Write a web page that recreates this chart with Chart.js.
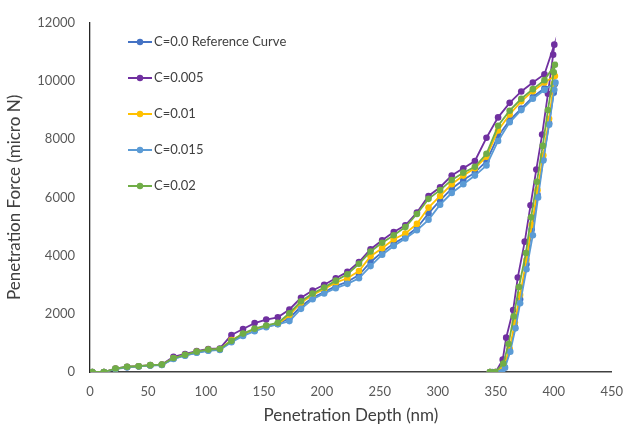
<!DOCTYPE html>
<html lang="en">
<head>
  <meta charset="UTF-8">
  <title>Penetration Force vs Depth</title>
  <script src="https://cdn.jsdelivr.net/npm/chart.js"></script>
  <style>
    html, body {
      margin: 0;
      padding: 0;
      background: #fff;
    }
    #myChart {
      display: block;
    }
  </style>
</head>
<body>
<canvas id="myChart" width="635" height="430"></canvas>

<script>
  // loading branch depths (nm), shared by every series
  const loadDepth = [2, 12, 22, 32, 42, 52, 62, 72, 82, 92, 102, 112, 122, 132, 142, 152, 162, 172, 182, 192,
    202, 212, 222, 232, 242, 252, 262, 272, 282, 292, 302, 312, 322, 332, 342, 352, 362, 372, 382, 392];

  // loading branch forces (micro N)
  const refLoad = [0, 0, 105, 165, 195, 225, 245, 460, 570, 670, 740, 770, 1050, 1270, 1430, 1560, 1650, 1850, 2250, 2550,
    2750, 2950, 3100, 3330, 3780, 4120, 4420, 4650, 4950, 5450, 5900, 6300, 6600, 6850, 7250, 8100, 8650, 9050, 9450, 9750];
  const c005Load = [0, 0, 120, 180, 200, 235, 255, 520, 620, 720, 790, 810, 1270, 1480, 1680, 1800, 1880, 2150, 2550, 2800,
    3000, 3220, 3440, 3780, 4220, 4530, 4810, 5040, 5480, 6050, 6350, 6750, 7000, 7250, 8050, 8750, 9250, 9640, 9950, 10230];
  const c01Load = [0, 0, 110, 170, 200, 230, 250, 470, 580, 690, 760, 780, 1100, 1300, 1460, 1560, 1650, 1950, 2380, 2650,
    2850, 3070, 3220, 3470, 3980, 4250, 4560, 4760, 5090, 5650, 6050, 6450, 6750, 7000, 7400, 8300, 8850, 9300, 9650, 9950];
  const c015Load = [0, 0, 100, 160, 190, 220, 240, 450, 560, 660, 730, 760, 1020, 1240, 1400, 1540, 1640, 1750, 2170, 2500,
    2700, 2880, 3030, 3220, 3640, 4030, 4330, 4590, 4870, 5230, 5750, 6150, 6450, 6750, 7100, 7940, 8580, 9000, 9390, 9690];
  const c02Load = [0, 0, 120, 180, 200, 235, 255, 480, 590, 700, 770, 790, 1070, 1320, 1490, 1600, 1690, 2020, 2430, 2700,
    2900, 3140, 3360, 3720, 4140, 4440, 4700, 4980, 5430, 5950, 6250, 6600, 6850, 7050, 7500, 8460, 8980, 9390, 9720, 10030];

  // peak + unloading branch
  const refUnloadDepth = [401, 400, 396, 391, 386, 381, 376.5, 371, 366.5, 362, 357.5, 352, 347];
  const refUnloadForce = [9900, 9600, 8550, 7300, 6100, 4900, 3700, 2500, 1550, 750, 180, 0, 0];
  const c005UnloadDepth = [400.5, 399.5, 395, 390, 385, 380, 375, 369, 365, 359, 356, 350, 345];
  const c005UnloadForce = [11250, 10900, 9560, 8160, 6960, 5730, 4480, 3250, 2130, 1180, 425, 0, 0];
  const c01UnloadDepth = [401, 400, 396, 391, 386, 381, 376.5, 371, 366.5, 362, 357, 350, 345];
  const c01UnloadForce = [10170, 9900, 8700, 7450, 6250, 5050, 3850, 2650, 1700, 800, 200, 0, 0];
  const c015UnloadDepth = [401.5, 400.5, 396, 391, 386.5, 382, 376.5, 371, 367, 362.5, 358, 355.5, 350, 345];
  const c015UnloadForce = [9950, 9700, 8500, 7270, 6000, 4700, 3530, 2360, 1500, 700, 150, 0, 0, 0];
  const c02UnloadDepth = [401, 400, 395, 390.5, 385.5, 380.5, 376, 370, 365.5, 361, 356.5, 349.5, 345];
  const c02UnloadForce = [10560, 10300, 9000, 7770, 6540, 5320, 4090, 2920, 1910, 960, 290, 0, 0];

  const seriesNames = ['C=0.0 Reference Curve', 'C=0.005', 'C=0.01', 'C=0.015', 'C=0.02'];
  const seriesColors = ['#4472C4', '#7030A0', '#FFC000', '#5B9BD5', '#70AD47'];

  const xTicks = [0, 50, 100, 150, 200, 250, 300, 350, 400, 450];
  const yTicks = [0, 2000, 4000, 6000, 8000, 10000, 12000];

  function toPoints(xs, ys) {
    return xs.map((x, i) => ({x: x, y: ys[i]}));
  }

  const allSeries = [
    toPoints(loadDepth, refLoad).concat(toPoints(refUnloadDepth, refUnloadForce)),
    toPoints(loadDepth, c005Load).concat(toPoints(c005UnloadDepth, c005UnloadForce)),
    toPoints(loadDepth, c01Load).concat(toPoints(c01UnloadDepth, c01UnloadForce)),
    toPoints(loadDepth, c015Load).concat(toPoints(c015UnloadDepth, c015UnloadForce)),
    toPoints(loadDepth, c02Load).concat(toPoints(c02UnloadDepth, c02UnloadForce))
  ];

  const FONT = "Lato, 'Open Sans', sans-serif";

  // legend drawn inside the plot, like the excel one
  const insideLegend = {
    id: 'insideLegend',
    afterDraw(chart) {
      const c = chart.ctx;
      c.save();
      c.font = '13px ' + FONT;
      c.textBaseline = 'middle';
      seriesNames.forEach((name, i) => {
        const y = 42 + i * 36;
        c.strokeStyle = seriesColors[i];
        c.lineWidth = 2;
        c.beginPath();
        c.moveTo(128, y);
        c.lineTo(152, y);
        c.stroke();
        c.fillStyle = seriesColors[i];
        c.beginPath();
        c.arc(140, y, 3.2, 0, Math.PI * 2);
        c.fill();
        c.fillStyle = '#404040';
        c.fillText(name, 154, y);
      });
      c.restore();
    }
  };

  const ctx = document.getElementById('myChart').getContext('2d');
  const myChart = new Chart(ctx, {
    type: 'scatter',
    data: {
      datasets: allSeries.map((pts, i) => ({
        label: seriesNames[i],
        data: pts,
        showLine: true,
        borderColor: seriesColors[i],
        backgroundColor: seriesColors[i],
        borderWidth: 1.8,
        pointRadius: 3.3,
        pointBorderWidth: 0,
        order: 5 - i // later series on top
      }))
    },
    options: {
      responsive: false,
      animation: false,
      layout: {
        padding: {top: 14, right: 15, left: 0, bottom: 0}
      },
      plugins: {
        legend: {display: false},
        tooltip: {enabled: false}
      },
      scales: {
        x: {
          type: 'linear',
          min: 0,
          max: 450,
          afterBuildTicks: (scale) => { scale.ticks = xTicks.map(v => ({value: v})); },
          afterFit: (scale) => { scale.height = 58; },
          grid: {display: false, drawTicks: false},
          border: {display: true, color: '#404040', width: 1.5},
          ticks: {
            color: '#595959',
            font: {family: FONT, size: 13},
            padding: 12,
            callback: (v) => String(v)
          },
          title: {
            display: true,
            text: 'Penetration Depth (nm)',
            color: '#404040',
            font: {family: FONT, size: 17},
            padding: {top: 4}
          }
        },
        y: {
          min: 0,
          max: 12000,
          afterBuildTicks: (scale) => { scale.ticks = yTicks.map(v => ({value: v})); },
          afterFit: (scale) => { scale.width = 90; },
          grid: {display: false, drawTicks: false},
          border: {display: true, color: '#262626', width: 1.3},
          ticks: {
            color: '#595959',
            font: {family: FONT, size: 13},
            padding: 15,
            callback: (v) => String(v)
          },
          title: {
            display: true,
            text: 'Penetration Force (micro N)',
            color: '#404040',
            font: {family: FONT, size: 17},
            padding: {bottom: 4}
          }
        }
      }
    },
    plugins: [insideLegend]
  });
</script>
</body>
</html>
